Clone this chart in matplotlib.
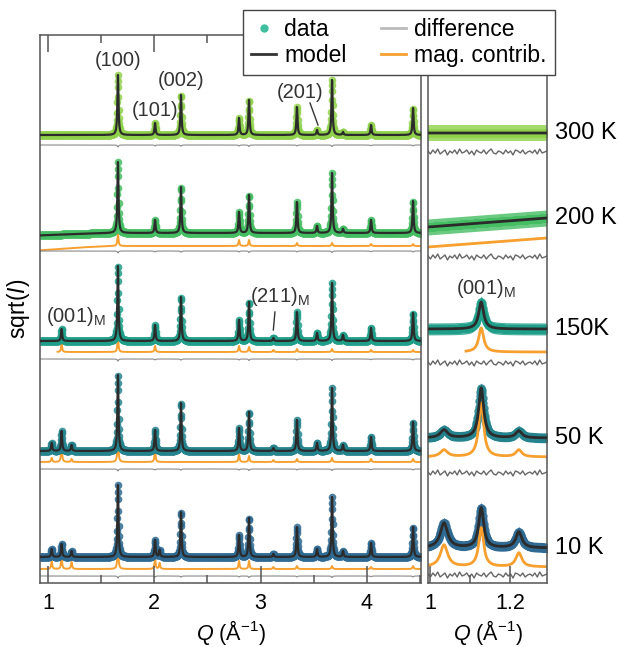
import numpy as np
import matplotlib
matplotlib.use("Agg")
import matplotlib.pyplot as plt
import matplotlib.transforms as mtransforms
from matplotlib.lines import Line2D

plt.rcParams['font.family'] = ['Liberation Sans', 'DejaVu Sans']
plt.rcParams['mathtext.fontset'] = 'custom'
plt.rcParams['mathtext.rm'] = 'Liberation Sans'
plt.rcParams['mathtext.it'] = 'Liberation Sans:italic'

# ---------------- data ----------------
temps = ['300 K', '200 K', '150K', '50 K', '10 K']
temp_colors = ['#8fd14a', '#45bd62', '#1f9e89', '#25838e', '#2f6a92']

# nuclear Bragg peaks (Q in 1/A) and sqrt(I) heights for each temperature
nuc_q = [1.658, 2.007, 2.251, 2.797, 2.891, 3.342, 3.531, 3.672, 3.775, 4.039, 4.434]
nuc_h_300 = [60, 12, 40, 17, 35, 28, 5, 55, 3, 10, 27]
nuc_h_200 = [71, 13, 46, 21, 38, 31, 7, 60, 4, 13, 32]
nuc_h_150 = [75, 16, 44, 21, 39, 29, 8, 58, 6, 13, 28]
nuc_h_50 = [76, 21, 48, 23, 39, 31, 8, 63, 6, 14, 29]
nuc_h_10 = [72, 17, 45, 22, 39, 30, 8, 60, 6, 14, 30]
nuc_heights = [nuc_h_300, nuc_h_200, nuc_h_150, nuc_h_50, nuc_h_10]

# purely magnetic peaks seen in the data
magdata_q = [1.035, 1.128, 1.222, 2.05, 3.12]
magdata_h_300 = [0, 0, 0, 0, 0]
magdata_h_200 = [0, 0, 0, 0, 0]
magdata_h_150 = [0, 12, 0, 0, 3]
magdata_h_50 = [8, 20, 6, 0, 3]
magdata_h_10 = [8, 13, 6, 7, 3]
magdata_heights = [magdata_h_300, magdata_h_200, magdata_h_150, magdata_h_50, magdata_h_10]

# magnetic contribution (orange) peaks
mag_q = [1.035, 1.128, 1.222, 1.658, 2.007, 2.05, 2.797, 2.891, 3.12, 3.342, 3.672, 4.039, 4.434]
mag_h_200 = [0, 0, 0, 12, 0, 0, 6, 6, 0, 3, 3, 2, 2]
mag_h_150 = [0, 8, 0, 14, 6, 0, 6, 5, 2, 3, 3, 2, 2]
mag_h_50 = [4, 16, 3, 25, 12, 0, 8, 6, 2, 3, 4, 3, 3]
mag_h_10 = [8, 12, 7, 25, 10, 6, 8, 8, 2, 3, 3, 2, 3]
mag_heights = [None, mag_h_200, mag_h_150, mag_h_50, mag_h_10]
mag_start_q = [None, 0.9, 1.09, 0.9, 0.9]

# background shape (200 K rises slightly at low Q)
bg_q = [0.90, 1.30, 1.60, 4.60]
bg_data_200 = [-2.5, -0.8, 0, 0]
bg_mag_200 = [-4.5, -1.5, 0, 0]

# residual bumps at nuclear peaks (left panel difference curves)
diff_bump = [2.0, 1.0, 1.2, 1.0, 1.5, 1.0, 0.0, 1.5, 0.0, 0.8, 1.0]

# zoomed panel: magnetic peaks
r_peak_q = [1.035, 1.128, 1.222]
r_peak_hw = [0.011, 0.0075, 0.009]
r_data_h = [[0, 0, 0], [0, 0, 0], [0, 27, 0], [8, 50, 7], [25, 40, 16]]
r_mag_h = [None, [0, 0, 0], [0, 24, 0], [7, 54, 7], [22, 39, 14]]
r_data_base = [(450, 450), (356, 365), (254, 254), (145, 145), (35, 35)]
r_mag_base = [None, (336, 345), (231, 231), (126, 126), (16, 16)]
r_spread = [8, 8, 6, 5, 5]
r_wiggle = [1, -2, 2, -1, 3, -2, 0, 2, -3, 1, -1, 2, -2, 3, -1, 0, 2, -2, 1, -3,
            2, 0, -1, 2, -2, 1, 3, -1, -2, 1, 0, -2, 2, -1, 1, -3, 2, 1, -1, 2,
            -2, 0, 1, -1, 2, -2, 3, -1, 0, 1]

# ---------------- layout (vertical offsets, pixel-like units) ----------------
data_off = [448, 350, 242, 132, 26]
mag_off = [None, 337, 231, 121, 14]
diff_off = [438, 332, 224, 114, 7]
r_diff_off = [431, 326, 220, 110, 8]


def lor(q, centers, heights, hw):
    out = np.zeros_like(q)
    hws = hw if np.iterable(hw) else [hw] * len(centers)
    for c, h, w in zip(centers, heights, hws):
        out += h / (1.0 + ((q - c) / w) ** 2)
    return out


fig = plt.figure(figsize=(6.19, 6.47), dpi=100)
axL = fig.add_axes([40 / 619, 64 / 647, 381 / 619, 548 / 647])
axR = fig.add_axes([428 / 619, 64 / 647, 119 / 619, 548 / 647])

xl = (0.925, 4.509)
xr = (0.995, 1.2925)
qf = np.arange(xl[0], xl[1], 0.0005)
qd = np.arange(xl[0], xl[1], 0.0025)
HW = 0.006

model_c = '#2b2b2b'
mag_c = '#f7a030'
diff_c = '#8a8a8a'

for i in range(5):
    col = temp_colors[i]
    bgd_f = np.interp(qf, bg_q, bg_data_200) if i == 1 else 0
    bgd_d = np.interp(qd, bg_q, bg_data_200) if i == 1 else 0
    mf = data_off[i] + bgd_f + lor(qf, nuc_q, nuc_heights[i], HW) + lor(qf, magdata_q, magdata_heights[i], HW)
    md = data_off[i] + bgd_d + lor(qd, nuc_q, nuc_heights[i], HW) + lor(qd, magdata_q, magdata_heights[i], HW)
    axL.plot(qd, md, 'o', ms=5.5, color=col, mec='none', alpha=0.85, zorder=2)
    axL.plot(qf, mf, '-', lw=1.6, color=model_c, zorder=3)
    if mag_heights[i] is not None:
        sel = qf >= mag_start_q[i]
        bgm = np.interp(qf, bg_q, bg_mag_200) if i == 1 else 0
        mg = mag_off[i] + bgm + lor(qf, mag_q, mag_heights[i], HW)
        mg = np.where(sel, mg, np.nan)
        axL.plot(qf, mg, '-', lw=1.4, color=mag_c, zorder=1)
    dl = diff_off[i] - lor(qf, nuc_q, diff_bump, HW)
    axL.plot(qf, dl, '-', lw=0.8, color=diff_c, zorder=1)

    # zoomed panel
    qrf = np.linspace(xr[0], xr[1], 1200)
    qrd = np.arange(xr[0], xr[1], 0.0012)
    b0, b1 = r_data_base[i]
    basef = np.interp(qrf, xr, [b0, b1])
    based = np.interp(qrd, xr, [b0, b1])
    mrf = basef + lor(qrf, r_peak_q, r_data_h[i], r_peak_hw)
    mrd = based + lor(qrd, r_peak_q, r_data_h[i], r_peak_hw)
    axR.fill_between(qrd, mrd - r_spread[i], mrd + r_spread[i], color=col, alpha=0.8, lw=0, zorder=1)
    axR.plot(qrd, mrd, 'o', ms=6, color=col, mec='none', alpha=0.9, zorder=2)
    axR.plot(qrf, mrf, '-', lw=2.0, color=model_c, zorder=3)
    if r_mag_h[i] is not None:
        m0, m1 = r_mag_base[i]
        mgr = np.interp(qrf, xr, [m0, m1]) + lor(qrf, r_peak_q, r_mag_h[i], r_peak_hw)
        mgr = np.where(qrf >= mag_start_q[i], mgr, np.nan)
        axR.plot(qrf, mgr, '-', lw=2.0, color=mag_c, zorder=2.5)
    qw = np.linspace(xr[0], xr[1], len(r_wiggle))
    axR.plot(qw, r_diff_off[i] + np.array(r_wiggle), '-', lw=1.0, color='#666666', zorder=1)

# ---------------- axes styling ----------------
for ax in (axL, axR):
    ax.set_ylim(0, 548)
    ax.set_yticks([])
    for s in ax.spines.values():
        s.set_color('#555555')
        s.set_linewidth(1.1)
    ax.tick_params(axis='x', which='both', direction='in', top=True, bottom=True,
                   labelsize=15.5, pad=7, color='#555555', width=1.1)
    ax.tick_params(axis='x', which='major', length=12)
    ax.tick_params(axis='x', which='minor', length=6)

axL.set_xlim(*xl)
axL.set_xticks([1, 2, 3, 4])
axL.set_xticklabels(['1', '2', '3', '4'])
axL.set_xticks([1.5, 2.5, 3.5, 4.5], minor=True)
axR.set_xlim(*xr)
axR.set_xticks([1.0, 1.2])
axR.set_xticklabels(['1', '1.2'])
axR.set_xticks([1.1], minor=True)

axL.set_xlabel(r'$Q$ (Å$^{-1}$)', fontsize=15.5, labelpad=3)
axR.set_xlabel(r'$Q$ (Å$^{-1}$)', fontsize=15.5, labelpad=3)
axL.set_ylabel(r'sqrt($I$)', fontsize=16.5, labelpad=6)

# temperature labels
trans = mtransforms.blended_transform_factory(axR.transAxes, axR.transData)
for i in range(5):
    b0, b1 = r_data_base[i]
    axR.text(1.065, b1, temps[i], transform=trans, fontsize=17, va='center', ha='left')

# peak annotations
ann_fs = 14.5
tc = '#333333'
axL.text(1.658, 523, '(100)', ha='center', va='center', fontsize=ann_fs, color=tc)
axL.text(2.007, 472, '(101)', ha='center', va='center', fontsize=ann_fs, color=tc)
axL.text(2.251, 502, '(002)', ha='center', va='center', fontsize=ann_fs, color=tc)
axL.text(3.37, 490, '(201)', ha='center', va='center', fontsize=ann_fs, color=tc)
axL.plot([3.465, 3.54], [480, 458], color=tc, lw=1.0)
axL.text(3.18, 286, r'(211)$_{\mathrm{M}}$', ha='center', va='center', fontsize=ann_fs, color=tc)
axL.plot([3.135, 3.12], [271, 253], color=tc, lw=1.0)
axL.text(0.98, 267, r'(001)$_{\mathrm{M}}$', ha='left', va='center', fontsize=ann_fs, color=tc)
axR.text(1.064, 294, r'(001)$_{\mathrm{M}}$', ha='left', va='center', fontsize=ann_fs, color=tc)

# legend
handles = [
    Line2D([], [], marker='o', ls='none', color='#3fbf9f', ms=5),
    Line2D([], [], color='#333333', lw=2),
    Line2D([], [], color='#bbbbbb', lw=2),
    Line2D([], [], color=mag_c, lw=2),
]
labels = ['data', 'model', 'difference', 'mag. contrib.']
fig.legend(handles, labels, ncol=2, loc='upper left', bbox_to_anchor=(243 / 619, 1 - 10 / 647),
           fontsize=16.5, frameon=True, fancybox=False, framealpha=1, edgecolor='#444444',
           handlelength=1.1, handletextpad=0.35, columnspacing=1.5, labelspacing=0.15,
           borderpad=0.35, borderaxespad=0)

fig.savefig('out.png', dpi=100)
